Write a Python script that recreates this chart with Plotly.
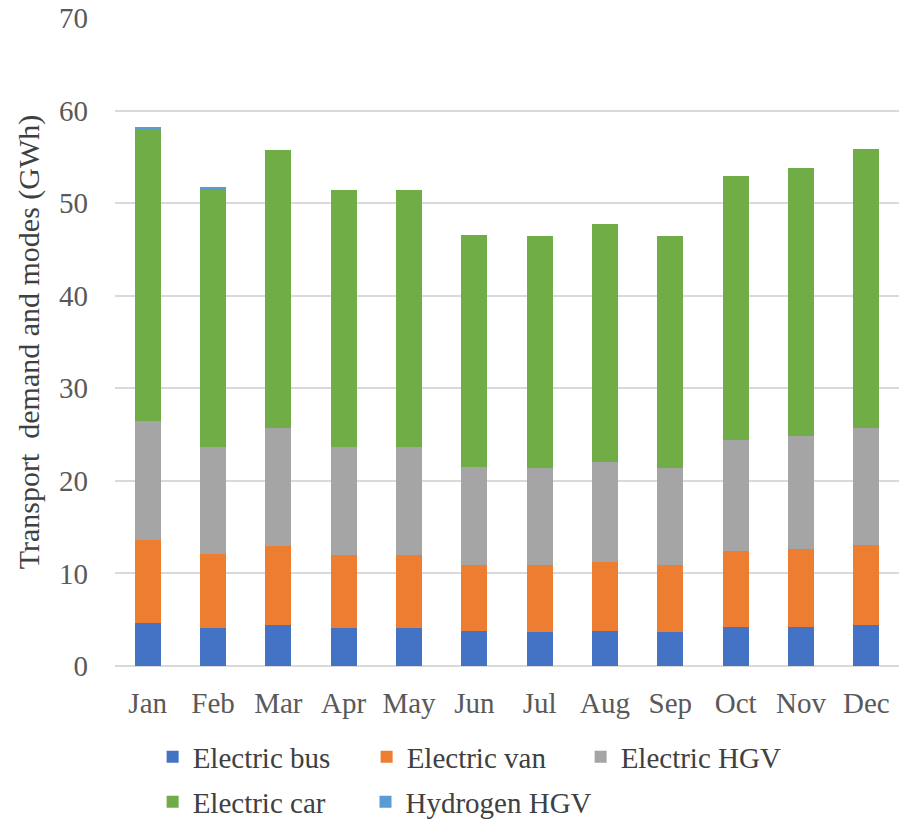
import plotly.graph_objects as go

months = ["Jan", "Feb", "Mar", "Apr", "May", "Jun",
          "Jul", "Aug", "Sep", "Oct", "Nov", "Dec"]

electric_bus = [4.65, 4.07, 4.40, 4.07, 4.07, 3.75, 3.64, 3.78, 3.64, 4.20, 4.25, 4.40]
electric_van = [8.95, 8.03, 8.60, 7.93, 7.93, 7.15, 7.26, 7.42, 7.26, 8.20, 8.35, 8.65]
electric_hgv = [12.90, 11.60, 12.70, 11.70, 11.70, 10.60, 10.50, 10.85, 10.50, 12.00, 12.20, 12.65]
electric_car = [31.50, 27.80, 30.05, 27.70, 27.70, 25.10, 25.10, 25.75, 25.10, 28.50, 29.00, 30.20]
hydrogen_hgv = [0.25, 0.20, 0.00, 0.00, 0.00, 0.00, 0.00, 0.00, 0.00, 0.00, 0.00, 0.00]

# (name, values, colour, legend id)
series = [
    ("Electric bus", electric_bus, "#4472C4", "legend"),
    ("Electric van", electric_van, "#ED7D31", "legend"),
    ("Electric HGV", electric_hgv, "#A5A5A5", "legend"),
    ("Electric car", electric_car, "#70AD47", "legend2"),
    ("Hydrogen HGV", hydrogen_hgv, "#5B9BD5", "legend3"),
]

font_family = "Liberation Serif, Times New Roman, serif"
text_color = "#404040"
tick_color = "#595959"

fig = go.Figure()
for name, vals, color, leg in series:
    fig.add_trace(go.Bar(
        x=months, y=vals, name=name, legend=leg,
        marker=dict(color=color, line=dict(width=0)),
    ))

legend_common = dict(
    orientation="h",
    xanchor="left",
    yanchor="middle",
    font=dict(family=font_family, size=29, color=text_color),
    traceorder="normal",
    itemwidth=30,
    bgcolor="rgba(0,0,0,0)",
)

fig.update_layout(
    barmode="stack",
    bargap=0.6,
    width=913, height=823,
    margin=dict(l=115, r=14, t=18, b=157, autoexpand=False),
    paper_bgcolor="white",
    plot_bgcolor="white",
    font=dict(family=font_family, size=29, color=text_color),
    xaxis=dict(
        showgrid=False, showline=False, ticks="",
        tickfont=dict(size=29, color=tick_color),
        ticklabelstandoff=17,
    ),
    yaxis=dict(
        range=[0, 70], dtick=10,
        showgrid=True, gridcolor="#D9D9D9", gridwidth=1.5,
        zeroline=True, zerolinecolor="#D9D9D9", zerolinewidth=1.5,
        showline=False, ticks="",
        tickfont=dict(size=29, color=tick_color),
        ticklabelstandoff=26,
        title=dict(text="Transport  demand and modes (GWh)",
                   font=dict(size=30, color=text_color), standoff=10),
    ),
    legend=dict(legend_common, x=0.048, y=-0.1404,
                entrywidth=169, entrywidthmode="pixels"),
    legend2=dict(legend_common, x=0.048, y=-0.2099),
    legend3=dict(legend_common, x=0.3195, y=-0.2099),
    showlegend=True,
)

fig.write_html("out.html")
